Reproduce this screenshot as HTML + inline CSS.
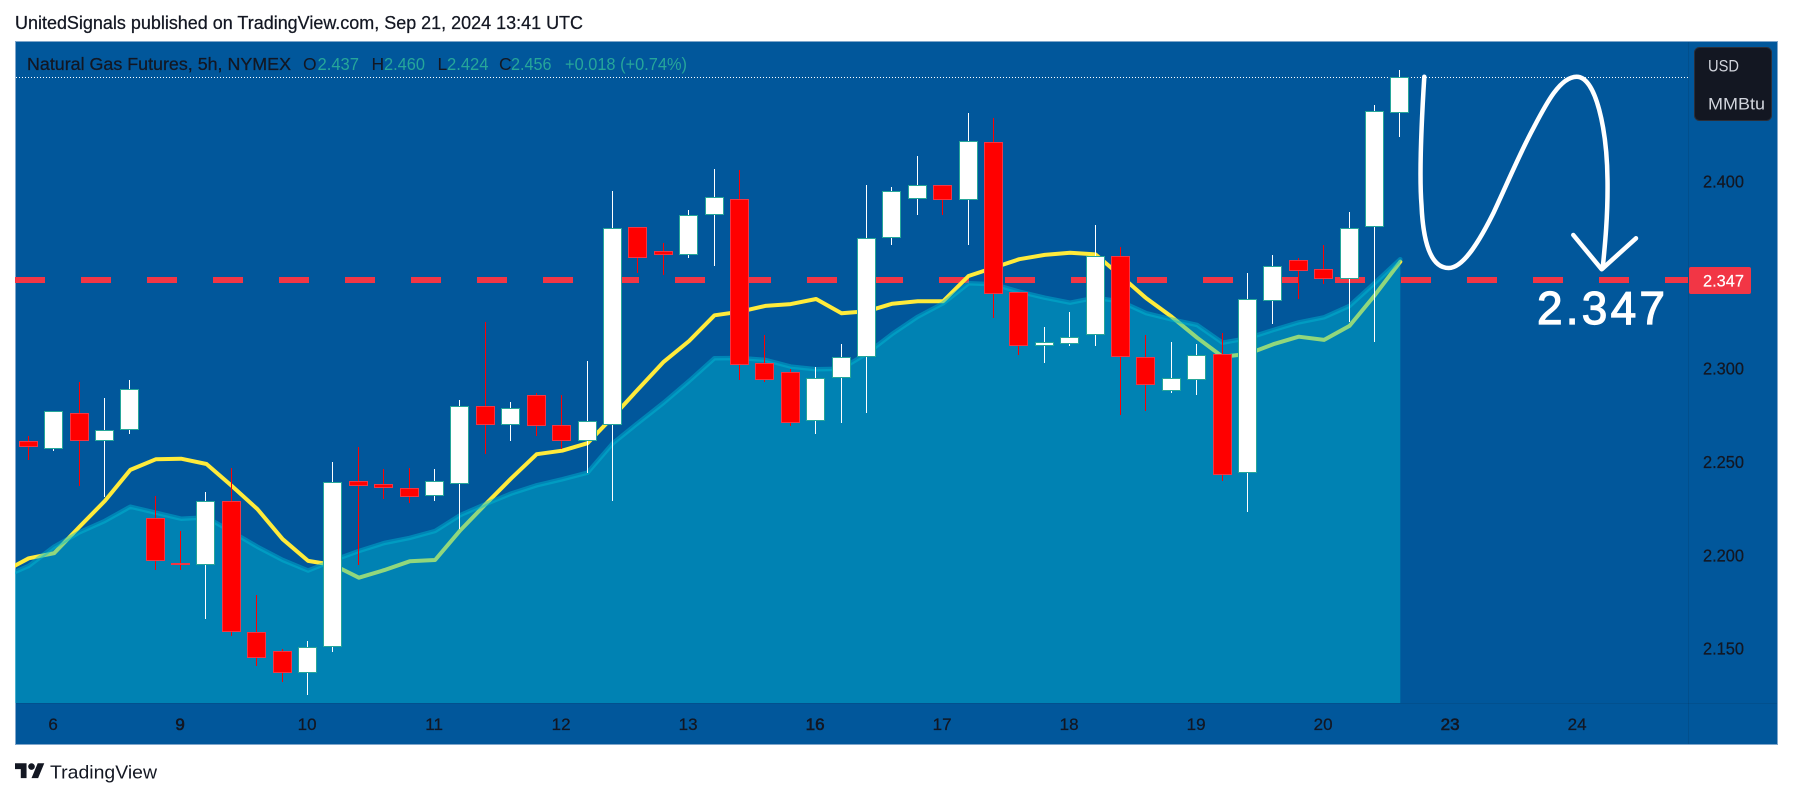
<!DOCTYPE html>
<html lang="en">
<head>
<meta charset="utf-8">
<title>Natural Gas Futures chart</title>
<style>
  html, body { margin: 0; padding: 0; background: #ffffff; width: 1793px; height: 798px; overflow: hidden; }
  svg { display: block; }
  text { font-family: "Liberation Sans", sans-serif; }
</style>
</head>
<body>
<svg id="chart" xmlns="http://www.w3.org/2000/svg" width="1793" height="798" viewBox="0 0 1793 798">
  <defs>
    <clipPath id="plot-clip"><rect x="15" y="41" width="1673" height="662"></rect></clipPath>
  </defs>
  <rect x="0" y="0" width="1793" height="798" fill="#ffffff"></rect>
  <text x="15" y="29" font-size="18.5" fill="#131722" stroke="#131722" stroke-width="0.25" textLength="568" lengthAdjust="spacingAndGlyphs">UnitedSignals published on TradingView.com, Sep 21, 2024 13:41 UTC</text>
  <rect x="15.5" y="41.5" width="1762" height="703" fill="#01579b" stroke="#7fa6cb" stroke-width="1"></rect>

  <g id="price-line-layer"></g>
  <g id="series-layer" clip-path="url(#plot-clip)"></g>
  <g id="candle-layer"></g>

  <line x1="1688.5" y1="42" x2="1688.5" y2="744" stroke="#131722" stroke-opacity="0.12"></line>
  <line x1="16" y1="703.5" x2="1777" y2="703.5" stroke="#131722" stroke-opacity="0.1"></line>

  <g font-size="17.5">
    <text x="27" y="70" fill="#131722" stroke="#131722" stroke-width="0.25" textLength="264" lengthAdjust="spacingAndGlyphs">Natural Gas Futures, 5h, NYMEX</text>
    <text x="303" y="70" fill="#131722">O</text>
    <text x="317.5" y="70" fill="#26a69a" textLength="41.5" lengthAdjust="spacingAndGlyphs">2.437</text>
    <text x="371.5" y="70" fill="#131722">H</text>
    <text x="384" y="70" fill="#26a69a" textLength="41" lengthAdjust="spacingAndGlyphs">2.460</text>
    <text x="437.5" y="70" fill="#131722">L</text>
    <text x="447" y="70" fill="#26a69a" textLength="41.5" lengthAdjust="spacingAndGlyphs">2.424</text>
    <text x="499" y="70" fill="#131722">C</text>
    <text x="511" y="70" fill="#26a69a" textLength="40.5" lengthAdjust="spacingAndGlyphs">2.456</text>
    <text x="565" y="70" fill="#26a69a" textLength="122" lengthAdjust="spacingAndGlyphs">+0.018 (+0.74%)</text>
  </g>

  <g id="price-axis"></g>
  <g id="time-axis"></g>

  <g fill="none" stroke="#ffffff" stroke-width="4.5" stroke-linecap="round" stroke-linejoin="round">
    <path d="M1424.3 76.7 C1421 130 1419.5 180 1421.5 205 C1423 240 1430 268 1448.7 268 C1464 268 1481 238 1493.3 213.3 C1507 184 1520 153 1533.3 128.3 C1546 104 1560 76.7 1576.7 76.7 C1596 76.7 1607 130 1607.5 180 C1608 215 1605 245 1602.7 268"></path>
    <path d="M1573.3 235 L1601.7 269.3 L1636 238.3"></path>
  </g>
  <text x="1537" y="324" font-size="46" fill="#ffffff" stroke="#ffffff" stroke-width="1.2" textLength="128" lengthAdjust="spacing">2.347</text>

  <g>
    <rect x="1689" y="267" width="62" height="27" rx="2" fill="#f23645"></rect>
    <text x="1703" y="286.5" font-size="17" fill="#ffffff" stroke="#ffffff" stroke-width="0.2" textLength="41" lengthAdjust="spacingAndGlyphs">2.347</text>
  </g>

  <g>
    <rect x="1694.5" y="47.5" width="77" height="73" rx="5" fill="#131722" stroke="#2a2e39"></rect>
    <text x="1708" y="71.5" font-size="17" fill="#d1d4dc" textLength="31" lengthAdjust="spacingAndGlyphs">USD</text>
    <text x="1708" y="109.5" font-size="17" fill="#d1d4dc" textLength="57" lengthAdjust="spacingAndGlyphs">MMBtu</text>
  </g>

  <g>
    <g transform="translate(15 760) scale(0.825)" fill="#131722">
      <path d="M14 22H7V11H0V4h14v18zM28 22h-8l7.5-18h8L28 22z"></path>
      <circle cx="20" cy="8" r="4"></circle>
    </g>
    <text x="50" y="778.5" font-size="18.5" fill="#131722" textLength="107" lengthAdjust="spacingAndGlyphs">TradingView</text>
  </g>
</svg>

<script>
// Candle values, one entry per 5h bar
const opens = [2.261,2.257,2.276,2.261,2.267,2.220,2.196,2.195,2.229,2.159,
  2.149,2.137,2.151,2.240,2.238,2.236,2.232,2.238,2.280,2.270,
  2.286,2.270,2.261,2.270,2.376,2.363,2.361,2.382,2.391,2.303,
  2.298,2.272,2.295,2.306,2.370,2.391,2.398,2.390,2.421,2.341,
  2.312,2.313,2.318,2.360,2.306,2.288,2.294,2.308,2.244,2.336,
  2.358,2.353,2.348,2.376,2.437];
const highs = [2.264,2.277,2.293,2.284,2.294,2.232,2.213,2.234,2.247,2.179,
  2.150,2.154,2.250,2.258,2.246,2.247,2.246,2.283,2.325,2.282,
  2.287,2.286,2.304,2.395,2.376,2.367,2.385,2.407,2.406,2.318,
  2.300,2.301,2.313,2.398,2.397,2.414,2.398,2.437,2.434,2.341,
  2.322,2.330,2.377,2.365,2.318,2.314,2.313,2.319,2.351,2.361,
  2.359,2.366,2.384,2.441,2.460];
const lows = [2.251,2.256,2.237,2.231,2.265,2.192,2.192,2.166,2.157,2.141,
  2.132,2.125,2.148,2.195,2.230,2.228,2.229,2.214,2.254,2.261,
  2.264,2.257,2.244,2.229,2.351,2.350,2.359,2.355,2.294,2.293,
  2.269,2.265,2.271,2.276,2.366,2.382,2.382,2.366,2.327,2.307,
  2.303,2.312,2.312,2.275,2.277,2.287,2.286,2.240,2.223,2.324,
  2.337,2.345,2.325,2.314,2.424];
const closes = [2.258,2.277,2.261,2.267,2.289,2.197,2.195,2.229,2.159,2.145,
  2.137,2.151,2.239,2.237,2.236,2.231,2.240,2.280,2.270,2.279,
  2.269,2.261,2.272,2.375,2.359,2.361,2.382,2.392,2.302,2.294,
  2.271,2.295,2.306,2.370,2.395,2.398,2.390,2.422,2.340,2.312,
  2.314,2.317,2.360,2.306,2.291,2.295,2.307,2.243,2.337,2.355,
  2.352,2.348,2.375,2.438,2.456];

// Indicator values: the first entry is the bar just off the left edge
const yellowAverage = [2.1911,2.1984,2.2011,2.2153,2.2291,2.2457,2.2514,2.2517,2.2489,2.2371,
  2.2248,2.2086,2.1970,2.1948,2.1880,2.1921,2.1968,2.1975,2.2135,2.2275,
  2.2412,2.2541,2.2560,2.2600,2.2742,2.2890,2.3036,2.3147,2.3285,2.3304,
  2.3335,2.3345,2.3372,2.3296,2.3306,2.3347,2.3360,2.3360,2.3495,2.3540,
  2.3585,2.3608,2.3620,2.3611,2.3495,2.3376,2.3277,2.3165,2.3063,2.3078,
  2.3130,2.3170,2.3153,2.3228,2.3393,2.3572];
const areaAverage = [2.1884,2.1943,2.2046,2.2123,2.2184,2.2260,2.2228,2.2196,2.2203,2.2126,
  2.2046,2.1975,2.1918,2.1973,2.2023,2.2066,2.2093,2.2130,2.2216,2.2275,
  2.2331,2.2375,2.2407,2.2442,2.2600,2.2710,2.2817,2.2933,2.3055,2.3056,
  2.3046,2.3010,2.2996,2.2999,2.3081,2.3185,2.3277,2.3349,2.3456,2.3451,
  2.3411,2.3379,2.3352,2.3379,2.3358,2.3296,2.3263,2.3233,2.3138,2.3162,
  2.3206,2.3247,2.3274,2.3335,2.3459,2.3585];

// Axes and reference levels
const priceTicks = [2.4, 2.3, 2.25, 2.2, 2.15];
const dayLabels = ["6","9","10","11","12","13","16","17","18","19","20","23","24"];
const dayBars = [1,6,11,16,21,26,31,36,41,46,51,56,61];
const mondayLabels = ["9","16","23"];
const targetPrice = 2.347;

const SVG_NS = "http://www.w3.org/2000/svg";
function xScale(i) { return 28.2 + 25.4 * i; }
function yScale(p) { return 181.7 + (2.4 - p) * 1868; }
function make(tag, attrs, parent) {
  const el = document.createElementNS(SVG_NS, tag);
  for (const k in attrs) el.setAttribute(k, attrs[k]);
  parent.appendChild(el);
  return el;
}

// Target price dashed line
const priceLineLayer = document.getElementById("price-line-layer");
const targetLine = make("line", {
  x1: 15, x2: 1688, y1: Math.floor(yScale(targetPrice)), y2: Math.floor(yScale(targetPrice)),
  stroke: "#f23645", "stroke-width": 6, "stroke-dasharray": "30 36"
}, priceLineLayer);



// Last close dotted line
const lastClose = closes[closes.length - 1];
const lastLine = make("line", {
  x1: 16, x2: 1688, y1: Math.floor(yScale(lastClose)) + 0.5, y2: Math.floor(yScale(lastClose)) + 0.5,
  stroke: "#ffffff", "stroke-width": 1, "stroke-dasharray": "1 2"
}, priceLineLayer);



// Indicator lines
const seriesLayer = document.getElementById("series-layer");
function linePath(values) {
  return values.map(function (v, k) {
    return (k === 0 ? "M" : "L") + (xScale(k - 1) + 0.5).toFixed(1) + " " + yScale(v).toFixed(1);
  }).join(" ");
}
const yellowLine = make("path", {
  d: linePath(yellowAverage), fill: "none", stroke: "#ffeb3b", "stroke-width": 4,
  "stroke-linejoin": "round", "stroke-linecap": "round"
}, seriesLayer);



const areaEndX = (xScale(areaAverage.length - 2) + 0.5).toFixed(1);
const areaFill = make("path", {
  d: linePath(areaAverage) + " L" + areaEndX + " 703 L" + (xScale(-1) + 0.5).toFixed(1) + " 703 Z",
  fill: "#00bcd4", "fill-opacity": 0.43, stroke: "none"
}, seriesLayer);



const areaLine = make("path", {
  d: linePath(areaAverage), fill: "none", stroke: "#00bcd4", "stroke-opacity": 0.45, "stroke-width": 4.5,
  "stroke-linejoin": "round", "stroke-linecap": "round"
}, seriesLayer);



// Candles
const candleLayer = document.getElementById("candle-layer");
opens.forEach(function (open, i) {
  const close = closes[i];
  const up = close >= open;
  const px = Math.floor(xScale(i));
  const group = make("g", {}, candleLayer);
  
  

  const highY = Math.round(yScale(highs[i]));
  const lowY = Math.round(yScale(lows[i]));
  const wick = make("rect", {
    x: px, y: highY, width: 1, height: Math.max(lowY - highY, 1),
    fill: up ? "#ffffff" : "#ff0000"
  }, group);
  
  

  const topY = Math.round(yScale(Math.max(open, close)));
  const botY = Math.round(yScale(Math.min(open, close)));
  const body = make("rect", {
    x: px - 9 + 0.5, y: topY + 0.5, width: 18, height: Math.max(botY - topY - 1, 1),
    fill: up ? "#ffffff" : "#ff0000", stroke: up ? "#26a69a" : "#f23645", "stroke-width": 1
  }, group);
  
  
});

// Price axis
const priceAxis = document.getElementById("price-axis");
priceTicks.forEach(function (p) {
  const t = make("text", {
    x: 1703, y: (yScale(p) + 6).toFixed(1), "font-size": 17.5, fill: "#131722",
    stroke: "#131722", "stroke-width": 0.25,
    textLength: 41, lengthAdjust: "spacingAndGlyphs"
  }, priceAxis);
  
  
  t.textContent = p.toFixed(3);
});

// Time axis
const timeAxis = document.getElementById("time-axis");
dayLabels.forEach(function (label, k) {
  const t = make("text", {
    x: (xScale(dayBars[k]) - 0.5).toFixed(1), y: 730, "font-size": 17, fill: "#131722",
    stroke: "#131722", "stroke-width": mondayLabels.indexOf(label) >= 0 ? 0.6 : 0.25,
    "text-anchor": "middle"
  }, timeAxis);
  
  
  t.textContent = label;
});
</script>
</body>
</html>
